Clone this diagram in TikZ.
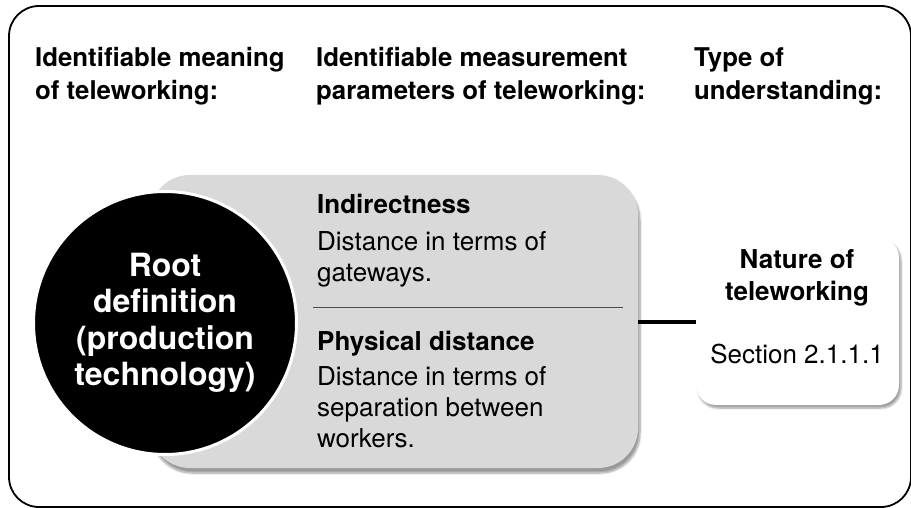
\documentclass[tikz,border=0pt]{standalone}
\usepackage{fontspec}
\setmainfont{TeX Gyre Heros}
\usetikzlibrary{positioning,shadows,shadows.blur}

\begin{document}
\begin{tikzpicture}[x=1pt,y=-1pt,
  colhead/.style={anchor=north west,align=left,inner sep=0pt,
    font=\bfseries\fontsize{25.8}{33}\selectfont},
  subhead/.style={anchor=north west,inner sep=0pt,
    font=\bfseries\fontsize{26}{31}\selectfont},
  desc/.style={anchor=north west,align=left,inner sep=0pt,
    font=\fontsize{26}{31}\selectfont},
  panel/.style={rounded corners=40pt,fill=black!15,
    blur shadow={shadow xshift=2pt,shadow yshift=-5pt,shadow blur steps=8}},
  card/.style={rounded corners=20pt,fill=white,
    blur shadow={shadow xshift=2pt,shadow yshift=-3pt,shadow blur steps=6}}]
 	\useasboundingbox (0,0) rectangle (911,508);
 	\draw[line width=1.8pt,rounded corners=30pt] (9,6) rectangle (911,507);
 	% column heads
 	\node[colhead] (meaninghd) at (35,47) {Identifiable meaning\\of teleworking:};
 	\node[colhead] (paramhd) at (316,47) {Identifiable measurement\\parameters of teleworking:};
 	\node[colhead] (typehd) at (694,47) {Type of\\understanding:};
 	% grey panel and root circle
 	\node[panel,minimum width=488pt,minimum height=293pt] (dims) at (394,321.5) {};
 	\node[circle,fill=black,draw=white,line width=3pt,minimum size=263pt,inner sep=0pt,
 		text=white,align=center,font=\bfseries\fontsize{32}{36.5}\selectfont]
 		(root) at (165,323) {Root\\definition\\(production\\technology)};
 	\node[subhead] (indir) at (317,194) {Indirectness};
 	\node[desc] (indirtxt) at (317,231) {Distance in terms of\\gateways.};
 	\draw[black!70,line width=0.8pt] (313,307) -- (623,307);
 	\node[subhead] (phys) at (317,331) {Physical distance};
 	\node[desc] (phystxt) at (317,366) {Distance in terms of\\separation between\\workers.};
 	% right card
 	\node[card,minimum width=203pt,minimum height=167pt] (nature) at (797.5,321.5) {};
 	\node[anchor=north,inner sep=0pt,align=center,font=\bfseries\fontsize{26}{32}\selectfont]
 		(naturetxt) at (797,249) {Nature of\\teleworking};
 	\node[anchor=north,inner sep=0pt,font=\fontsize{26}{31}\selectfont]
 		(section) at (797,344) {Section 2.1.1.1};
 	\draw[line width=4pt] (dims) -- (nature);
\end{tikzpicture}
\end{document}
